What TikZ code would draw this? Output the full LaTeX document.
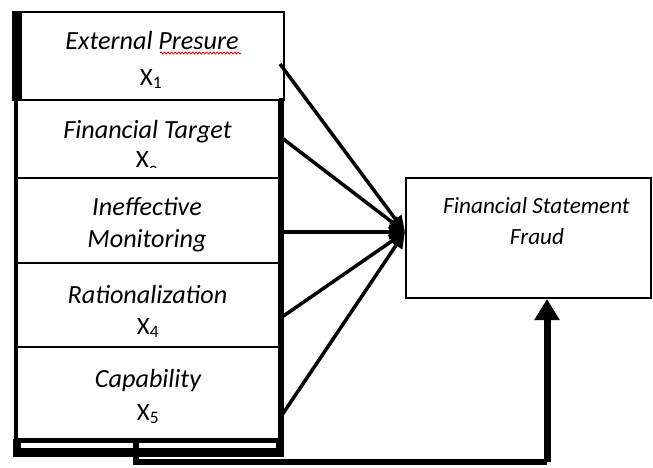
\documentclass[tikz,border=0pt]{standalone}
\usepackage{fontspec}
\setmainfont{Carlito}
\usetikzlibrary{arrows.meta,decorations.pathmorphing}
\begin{document}
\begin{tikzpicture}[x=1pt,y=-1pt,
  box/.style={draw, line width=2pt, inner sep=0pt, fill=white},
  lbl/.style={font=\fontsize{26.2}{30}\selectfont\itshape, anchor=base, inner sep=0pt},
  sub/.style={font=\fontsize{25}{30}\selectfont, anchor=base, inner sep=0pt},
  tlbl/.style={font=\fontsize{23.2}{28}\selectfont\itshape, anchor=base, inner sep=0pt},
  feed/.style={line width=3.5pt, -{Triangle[length=16pt,width=14pt]}},
  base/.style={line width=7pt, -{Triangle[length=21pt,width=24pt]}},
  squiggle/.style={red, line width=0.8pt, decorate, decoration={snake, amplitude=1pt, segment length=3.5pt}}
]
\useasboundingbox (0,0) rectangle (653,467);

% boxes
\node[box, minimum width=271pt, minimum height=88pt] (b1) at (148.5,56) {};
\node[box, minimum width=264pt, minimum height=78pt] (b2) at (147,139) {};
\node[box, minimum width=264pt, minimum height=85pt] (b3) at (147,220.5) {};
\node[box, minimum width=264pt, minimum height=84pt] (b4) at (147,305) {};
\node[box, minimum width=264pt, minimum height=92pt] (b5) at (147,393) {};
\node[box, minimum width=245pt, minimum height=120pt] (t) at (528.5,238) {};

% frame
\fill (13,12) rectangle (22,100);
\draw[line width=4pt] (15.5,99) -- (15.5,457);
\draw[line width=5pt] (281,98) -- (281,457);
\fill (13,439) rectangle (283.5,457);
\fill[white] (21,443) rectangle (276,448);

% labels
\node[lbl] (l1) at (152,49) {External Presure};
\draw[squiggle] (160,53) -- (241,53);
\node[sub] (x1) at (151,85) {X\textsubscript{1}};
\node[lbl] (l2) at (147.5,138) {Financial Target};
\begin{scope}
  \clip (15,148) rectangle (279,167.5);
  \node[sub] (x2) at (147,167) {X\raisebox{-6.5pt}{\textsubscript{2}}};
\end{scope}
\node[lbl] (l3a) at (147,215) {Ineffective};
\node[lbl] (l3b) at (147,247) {Monitoring};
\node[lbl] (l4) at (147.5,303) {Rationalization};
\node[sub] (x4) at (148,334) {X\textsubscript{4}};
\node[lbl] (l5) at (148,387) {Capability};
\node[sub] (x5) at (148,420) {X\textsubscript{5}};
\node[tlbl] (tl1) at (536.5,213) {Financial Statement};
\node[tlbl] (tl2) at (537,244) {Fraud};

% connectors
\coordinate (tip) at (405,232);
\coordinate (s1) at (280,64);
\coordinate (s2) at (282,138);
\coordinate (s3) at (282,232);
\coordinate (s4) at (282,317);
\coordinate (s5) at (282,415);
\foreach \s in {s1,s2,s3,s4,s5} \draw[feed] (\s) -- (tip);

\coordinate (c0) at (135.5,442);
\coordinate (a0) at (547,462);
\draw[line width=6pt] (c0) |- (a0);
\draw[base] (a0) -- (a0 |- t.south);
\end{tikzpicture}
\end{document}
